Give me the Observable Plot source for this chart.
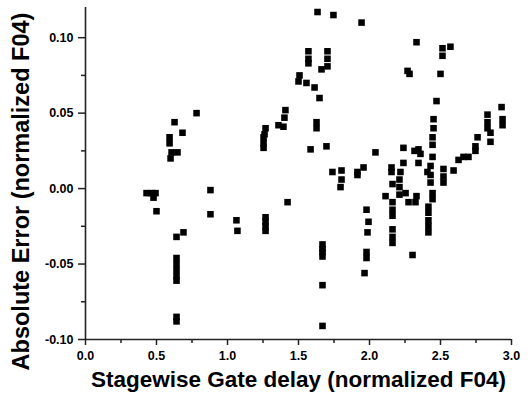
<!DOCTYPE html>
<html>
<head>
<meta charset="utf-8">
<script src="https://cdn.jsdelivr.net/npm/d3@7"></script>
<script src="https://cdn.jsdelivr.net/npm/@observablehq/plot@0.6"></script>
<style>
  html, body { margin: 0; padding: 0; background: #fff; }
  #chart { width: 531px; height: 405px; }
</style>
</head>
<body>
<div id="chart"></div>
<script>
// Stagewise gate delay (normalized F04)
const gateDelay = [
  0.430, 0.465, 0.493, 0.479, 0.500,
  0.592, 0.592, 0.606, 0.648, 0.599, 0.627, 0.683, 0.782,
  0.690, 0.641, 0.641, 0.641, 0.641, 0.641, 0.641, 0.641, 0.641,
  0.880, 0.880, 1.063, 1.070,
  1.268, 1.268, 1.268, 1.268, 1.268, 1.261, 1.254, 1.254, 1.254,
  1.359, 1.394, 1.401, 1.408, 1.423,
  1.507, 1.500, 1.556, 1.613, 1.648, 1.570, 1.570, 1.570,
  1.704, 1.704, 1.704, 1.662, 1.634, 1.746,
  1.627, 1.627, 1.585, 1.697, 1.739, 1.803, 1.803, 1.796,
  1.669, 1.669, 1.669, 1.669, 1.669, 1.669,
  1.915, 1.915, 1.958, 1.944,
  1.979, 1.993, 1.986, 1.979, 1.979, 1.965,
  2.042, 2.113,
  2.155, 2.155, 2.162, 2.162, 2.162, 2.162, 2.162, 2.162, 2.162,
  2.218, 2.211, 2.211, 2.211, 2.239, 2.239, 2.254, 2.275, 2.303,
  2.317, 2.331, 2.324, 2.268, 2.282, 2.331, 2.345, 2.359, 2.345,
  2.408, 2.430, 2.430, 2.430, 2.444, 2.444,
  2.415, 2.415, 2.415, 2.415, 2.415,
  2.444, 2.444, 2.444, 2.451, 2.451, 2.472, 2.500, 2.514, 2.514, 2.570,
  2.521, 2.521, 2.521, 2.592, 2.627, 2.662, 2.697,
  2.746, 2.746, 2.761, 2.831, 2.831, 2.831, 2.852, 2.852,
  2.930, 2.937, 2.937
];
// Absolute error (normalized F04)
const absError = [
  -0.003, -0.003, -0.003, -0.006, -0.015,
  0.034, 0.030, 0.024, 0.024, 0.020, 0.044, 0.037, 0.050,
  -0.029, -0.032, -0.046, -0.050, -0.054, -0.058, -0.061, -0.085, -0.088,
  -0.001, -0.017, -0.021, -0.028,
  -0.019, -0.022, -0.025, -0.028, 0.040, 0.036, 0.034, 0.030, 0.027,
  0.042, 0.041, 0.047, 0.052, -0.009,
  0.075, 0.071, 0.070, 0.067, 0.060, 0.091, 0.086, 0.083,
  0.091, 0.086, 0.081, 0.079, 0.117, 0.115,
  0.044, 0.040, 0.026, 0.028, 0.011, 0.012, 0.006, 0.001,
  -0.037, -0.040, -0.042, -0.045, -0.064, -0.091,
  0.011, 0.009, 0.014, 0.110,
  -0.014, -0.022, -0.029, -0.042, -0.046, -0.056,
  0.024, -0.005,
  0.014, 0.011, 0.003, -0.009, -0.014, -0.018, -0.027, -0.032, -0.036,
  0.011, 0.006, 0.001, -0.004, 0.027, 0.017, -0.003, -0.009, -0.044,
  0.025, -0.005, -0.009, 0.078, 0.076, 0.097, 0.026, 0.023, 0.017,
  0.011, 0.015, 0.009, 0.004, -0.003, -0.007,
  -0.012, -0.016, -0.021, -0.025, -0.029,
  0.021, 0.029, 0.034, 0.040, 0.046, 0.058, 0.076, 0.093, 0.088, 0.094,
  0.013, 0.008, 0.004, 0.012, 0.019, 0.021, 0.021,
  0.028, 0.025, 0.034, 0.049, 0.044, 0.040, 0.037, 0.031,
  0.054, 0.046, 0.042
];
const xMajorTicks = [0, 0.5, 1.0, 1.5, 2.0, 2.5, 3.0];
const xMinorTicks = [0.25, 0.75, 1.25, 1.75, 2.25, 2.75];
const yMajorTicks = [-0.10, -0.05, 0.00, 0.05, 0.10];
const yMinorTicks = [-0.075, -0.025, 0.025, 0.075];
const xTitle = "Stagewise Gate delay (normalized F04)";
const yTitle = "Absolute Error (normalized F04)";

const rows = gateDelay.map((d, i) => ({x: d, y: absError[i]}));
const font = "'Liberation Sans', Arial, Helvetica, sans-serif";

const chart = Plot.plot({
  width: 531,
  height: 405,
  marginLeft: 85,
  marginRight: 20,
  marginTop: 7,
  marginBottom: 66,
  x: {domain: [0, 3]},
  y: {domain: [-0.1, 0.12]},
  style: {fontFamily: font, background: "#fff", color: "#000", overflow: "visible"},
  marks: [
    Plot.axisX({ticks: xMajorTicks, tickSize: 6, tickPadding: 6, tickFormat: d => d.toFixed(1),
      fontSize: 12.5, fontWeight: "bold", label: null, stroke: "#222", strokeWidth: 1.5}),
    Plot.axisX({ticks: xMinorTicks, tickSize: 4, tickFormat: () => "", label: null, stroke: "#222", strokeWidth: 1.5}),
    Plot.axisY({ticks: yMajorTicks, tickSize: 7, tickPadding: 5, tickFormat: d => d.toFixed(2),
      fontSize: 12.5, fontWeight: "bold", label: null, stroke: "#222", strokeWidth: 1.5}),
    Plot.axisY({ticks: yMinorTicks, tickSize: 4, tickFormat: () => "", label: null, stroke: "#222", strokeWidth: 1.5}),
    Plot.ruleX([0], {stroke: "#222", strokeWidth: 1.6}),
    Plot.ruleY([-0.1], {stroke: "#222", strokeWidth: 1.6}),
    Plot.dot(rows, {x: "x", y: "y", symbol: "square", r: 3.7, fill: "#000", stroke: "none"}),
    Plot.text([xTitle], {frameAnchor: "bottom", dy: 47, fontSize: 22.5, fontWeight: "bold", fill: "#000"}),
    Plot.text([yTitle], {frameAnchor: "left", textAnchor: "middle", lineAnchor: "middle", dx: -64, dy: 18, rotate: -90, fontSize: 23.5, fontWeight: "bold", fill: "#000"})
  ]
});
document.getElementById("chart").appendChild(chart);
</script>
</body>
</html>
